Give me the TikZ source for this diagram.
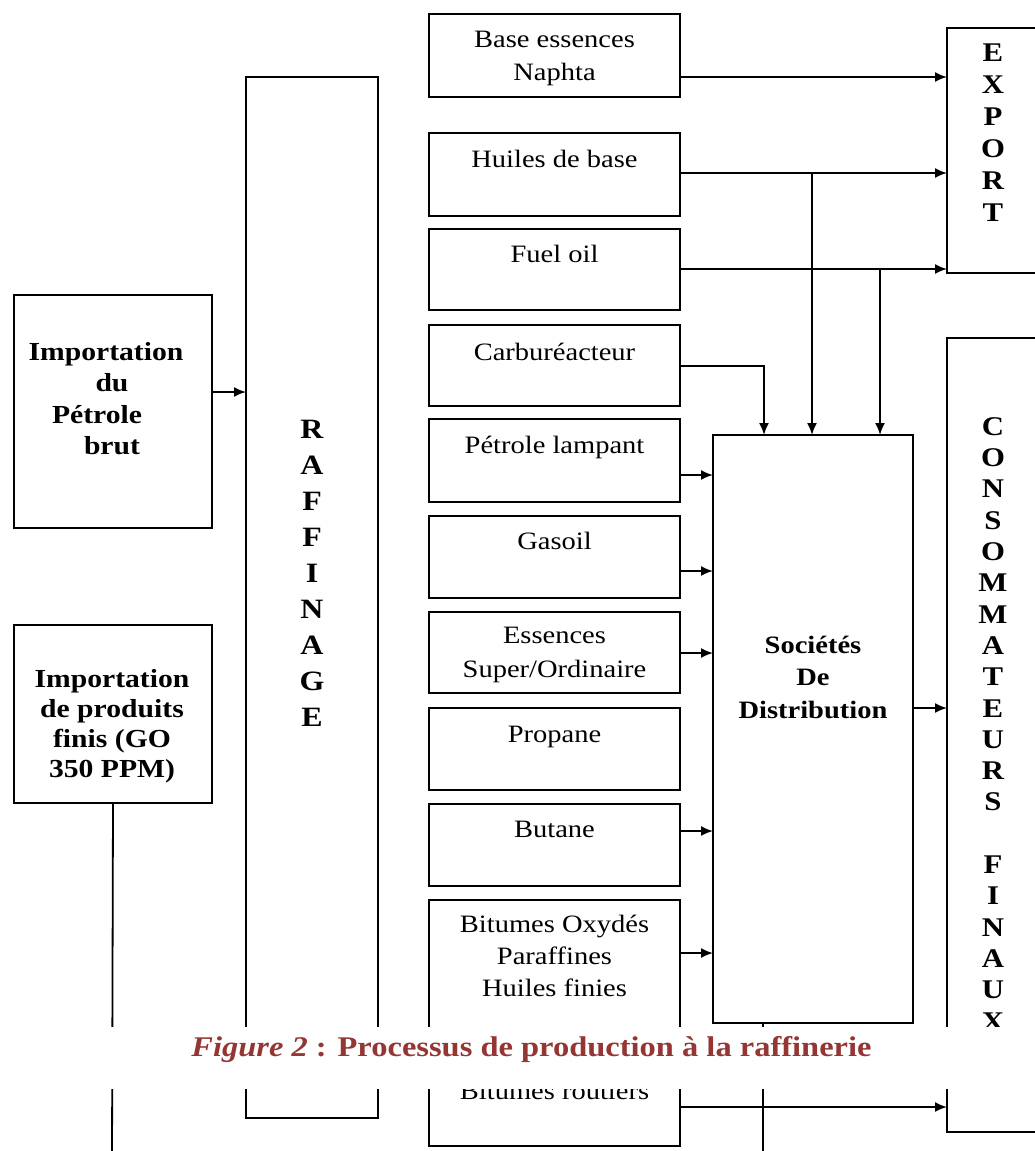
\documentclass[tikz,border=0pt]{standalone}
\usepackage{fontspec}
\setmainfont{Liberation Serif}[FakeStretch=1.14]
\usetikzlibrary{arrows.meta}
\definecolor{capred}{HTML}{943634}
\tikzset{
 bx/.style={draw, line width=1.8pt, inner sep=0pt, outer sep=0pt, anchor=north west},
 ptxt/.style={anchor=base, align=center, inner sep=0pt, font=\fontsize{25}{33}\selectfont},
 btxt/.style={anchor=base, align=center, inner sep=0pt, font=\bfseries\fontsize{26}{31.5}\selectfont},
 vtxt/.style={anchor=base, align=center, inner sep=0pt, font=\bfseries\fontsize{27}{31.5}\selectfont},
 arr/.style={line width=1.8pt, -{Latex[length=12pt,width=10pt]}},
 ln/.style={line width=1.8pt},
}
\newcommand\bxnode[5]{\node[bx, minimum width={#4-#2}, minimum height={#5-#3}] (#1) at (#2,#3) {};}
\begin{document}
\begin{tikzpicture}[x=1pt,y=-1pt]
\clip (0,0) rectangle (1035,1151);
\fill[white] (0,0) rectangle (1035,1151);
% boxes
\bxnode{imp1}{14}{295}{212}{528}
\bxnode{imp2}{14}{625}{212}{803}
\bxnode{raff}{246}{77}{378}{1118}
\bxnode{naphta}{429}{14}{680}{97}
\bxnode{huiles}{429}{133}{680}{216}
\bxnode{fuel}{429}{229}{680}{310}
\bxnode{carbu}{429}{325}{680}{406}
\bxnode{petrole}{429}{419}{680}{502}
\bxnode{gasoil}{429}{516}{680}{598}
\bxnode{essences}{429}{612}{680}{693}
\bxnode{propane}{429}{708}{680}{790}
\bxnode{butane}{429}{804}{680}{886}
\bxnode{bitox}{429}{900}{680}{1048}
\bxnode{bitrt}{429}{1064}{680}{1146}
\bxnode{soc}{713}{435}{913}{1023}
\bxnode{export}{947}{28}{1060}{273}
\bxnode{conso}{947}{338}{1060}{1132}
% texts (anchor base = baseline of the last line)
\node[btxt] (imp1T) at (112,454.5) {Importation\rule{12pt}{0pt}\\du\\P\'etrole\rule{30pt}{0pt}\\brut};
\node[btxt, font=\bfseries\fontsize{26}{30}\selectfont] (imp2T) at (112,777) {Importation\\de produits\\finis (GO\\350 PPM)};
\node[vtxt, font=\bfseries\fontsize{28}{36}\selectfont] (raffT) at (312,726) {R\\A\\F\\F\\I\\N\\A\\G\\E};
\node[ptxt] (naphtaT) at (554.5,80) {Base essences\\Naphta};
\node[ptxt] (huilesT) at (554.5,167) {Huiles de base};
\node[ptxt] (fuelT) at (554.5,262) {Fuel oil};
\node[ptxt] (carbuT) at (554.5,360) {Carbur\'eacteur};
\node[ptxt] (petroleT) at (554.5,453) {P\'etrole lampant};
\node[ptxt] (gasoilT) at (554.5,549) {Gasoil};
\node[ptxt, font=\fontsize{25}{34}\selectfont] (essencesT) at (554.5,677) {Essences\\Super/Ordinaire};
\node[ptxt] (propaneT) at (554.5,742) {Propane};
\node[ptxt] (butaneT) at (554.5,837) {Butane};
\node[ptxt, font=\fontsize{25}{32}\selectfont] (bitoxT) at (554.5,996) {Bitumes Oxyd\'es\\Paraffines\\Huiles finies};
\node[ptxt] (bitrtT) at (554.5,1099) {Bitumes routiers};
\node[btxt, font=\bfseries\fontsize{25}{32.5}\selectfont] (socT) at (813,718) {Soci\'et\'es\\De\\Distribution};
\node[vtxt, font=\bfseries\fontsize{27}{32}\selectfont] (exportT) at (993,221) {E\\X\\P\\O\\R\\T};
\node[vtxt, font=\bfseries\fontsize{27}{31.3}\selectfont] (consoT) at (993,1030) {C\\O\\N\\S\\O\\M\\M\\A\\T\\E\\U\\R\\S\\[31.3pt]F\\I\\N\\A\\U\\X};
% connectors
\draw[arr] (imp1.east |- 0,392) -- (raff.west |- 0,392);
\coordinate (imp2end) at (112,1160);
\draw[ln] (imp2.south) -- (imp2end);
\draw[arr] (naphta.east |- 0,77) -- (export.west |- 0,77);
\draw[arr] (huiles.east |- 0,173) -- (export.west |- 0,173);
\draw[arr] (fuel.east |- 0,269) -- (export.west |- 0,269);
\coordinate (jh) at (812,173);
\coordinate (jf) at (880,269);
\draw[arr] (jh) -- (jh |- soc.north);
\draw[arr] (jf) -- (jf |- soc.north);
\draw[arr] (carbu.east |- 0,366) -- (764,366) -- (764,0 |- soc.north);
\draw[arr] (petrole.east |- 0,475) -- (soc.west |- 0,475);
\draw[arr] (gasoil.east |- 0,571) -- (soc.west |- 0,571);
\draw[arr] (essences.east |- 0,653) -- (soc.west |- 0,653);
\draw[arr] (butane.east |- 0,831) -- (soc.west |- 0,831);
\draw[arr] (bitox.east |- 0,953) -- (soc.west |- 0,953);
\draw[arr] (soc.east |- 0,708) -- (conso.west |- 0,708);
\draw[arr] (bitrt.east |- 0,1107) -- (conso.west |- 0,1107);
\coordinate (socend) at (763,1160);
\draw[ln] (soc.south -| socend) -- (socend);
% caption band
\fill[white] (0,1027) rectangle (1035,1089);
\node[anchor=base, inner sep=0pt, text=capred, font=\bfseries\fontsize{28.5}{30}\selectfont] (cap) at (531.5,1056) {\textit{Figure 2} : Processus de production \`a la raffinerie};
\end{tikzpicture}
\end{document}
